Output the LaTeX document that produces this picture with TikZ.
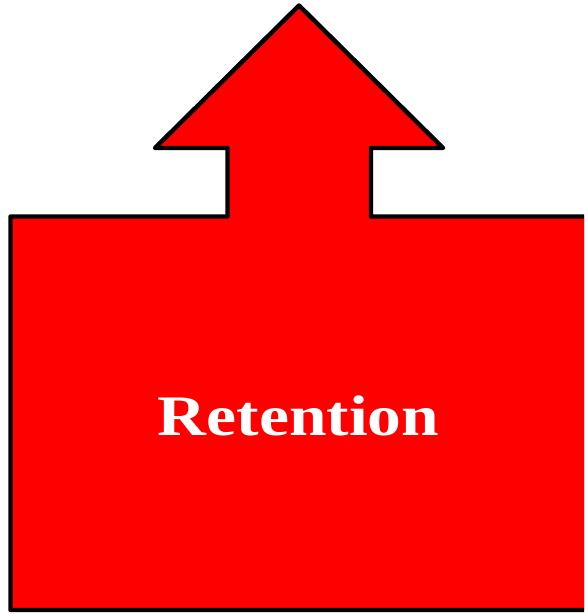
\documentclass[tikz,border=0pt]{standalone}
\usepackage{fontspec}
\newfontfamily\retfont[FakeStretch=1.18]{Liberation Serif}
\usetikzlibrary{positioning}

\begin{document}
\begin{tikzpicture}[
  x=0.02cm,y=-0.02cm,
  arrowshape/.style={draw=black,fill=red,line width=2.55pt,line join=round},
  label/.style={text=white,font=\retfont\bfseries\fontsize{32.6}{36}\selectfont,inner sep=0pt,anchor=base}
]
  \clip (0,0) rectangle (584,614);
  \draw[arrowshape] (299,5.5) -- (443,148) -- (371,148) -- (371,216.5) -- (640,216.5)
    -- (640,610) -- (10.5,610) -- (10.5,216.5) -- (227.5,216.5) -- (227.5,148) -- (155,148) -- cycle;
  \node[label] (ret) at (298.5,435) {Retention};
\end{tikzpicture}
\end{document}
